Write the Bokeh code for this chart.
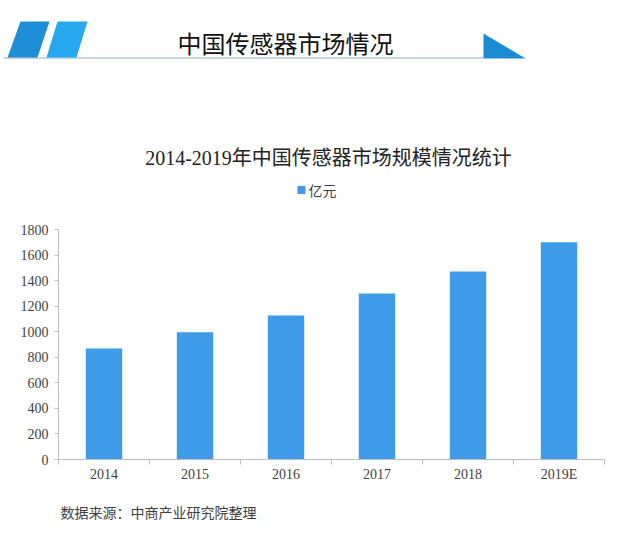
from bokeh.plotting import figure
from bokeh.layouts import column
from bokeh.models import Range1d, LinearAxis, FixedTicker, ColumnDataSource
from bokeh.core.properties import value
from bokeh.embed import file_html
from bokeh.resources import INLINE

# ---- data ----
years = ["2014", "2015", "2016", "2017", "2018", "2019E"]
market_size = [868, 995, 1126, 1300, 1472, 1700]
y_ticks = [0, 200, 400, 600, 800, 1000, 1200, 1400, 1600, 1800]
series_name = "亿元"
header_title = "中国传感器市场情况"
chart_title = "2014-2019年中国传感器市场规模情况统计"
source_note = "数据来源：中商产业研究院整理"

# ---- layout constants ----
W = 630
TOP_H, MAIN_H, BOT_H = 200, 290, 47
FL, FR, FT, FB = 58, 604, 229, 459          # plot frame in page pixels
BAR = "#3d9be9"
AXIS = "#bfbfbf"
TXT = "#3f3f3f"
SERIF = "Liberation Serif"
MIX = "'Liberation Serif', 'Noto Sans CJK SC'"
SANS_CJK = "Noto Sans CJK SC"


def pixel_fig(h):
    f = figure(width=W, height=h, x_range=Range1d(0, W), y_range=Range1d(h, 0),
               output_backend="svg", toolbar_location=None,
               x_axis_location=None, y_axis_location=None, title=None,
               min_border=0, min_border_left=0, min_border_right=0,
               min_border_top=0, min_border_bottom=0, frame_align=False)
    f.outline_line_color = None
    f.xgrid.visible = False
    f.ygrid.visible = False
    f.background_fill_color = "white"
    f.border_fill_color = "white"
    return f


# ---------- header / titles ----------
top = pixel_fig(TOP_H)
top.patches(xs=[[3, 483, 483, 3], [20, 49, 37, 7], [57, 87, 76, 46], [483, 483, 525]],
            ys=[[56.8, 56.8, 58.2, 58.2], [21, 21, 57, 57], [21, 21, 57, 57], [33, 58, 58]],
            fill_color=["#b5c8da", "#1e8fd6", "#25a8ee", "#1b8bd2"], line_color=None)
top.text(x=[285], y=[42], text=[header_title], text_font=value(SANS_CJK),
         text_font_size="24px", text_color="#111111", text_align="center", text_baseline="middle")
top.text(x=[328], y=[157], text=[chart_title], text_font=value(MIX),
         text_font_size="20px", text_color="#222222", text_align="center", text_baseline="middle")
# legend
top.rect(x=[301], y=[189.5], width=8, height=8, fill_color=BAR, line_color=None)
top.text(x=[308], y=[189.5], text=[series_name], text_font=value(SANS_CJK),
         text_font_size="14px", text_color=TXT, text_align="left", text_baseline="middle")

# ---------- main chart ----------
n = len(years)
centers = [i + 0.5 for i in range(n)]
bounds = list(range(n + 1))

p = figure(width=W, height=MAIN_H,
           x_range=Range1d(0, n),
           y_range=Range1d(y_ticks[0], y_ticks[-1]),
           output_backend="svg", toolbar_location=None,
           x_axis_location=None, y_axis_location=None, title=None,
           min_border_left=FL, min_border_right=W - FR,
           min_border_top=FT - TOP_H, min_border_bottom=TOP_H + MAIN_H - FB,
           frame_align=False)
p.outline_line_color = None
p.xgrid.visible = False
p.ygrid.visible = False
p.background_fill_color = "white"
p.border_fill_color = "white"

src = ColumnDataSource(dict(x=centers, value=market_size, year=years))
bars = p.vbar(x="x", top="value", width=0.4, source=src,
              fill_color=BAR, line_color=None)

yax = LinearAxis(ticker=FixedTicker(ticks=y_ticks))
yax.axis_line_color = AXIS
yax.major_tick_line_color = AXIS
yax.major_tick_out = 4
yax.major_tick_in = 0
yax.minor_tick_line_color = None
yax.major_label_text_font = SERIF
yax.major_label_text_font_size = "14px"
yax.major_label_text_color = TXT
yax.major_label_standoff = 6
p.add_layout(yax, "left")

# boundary ticks (Excel style), no labels
tax = LinearAxis(ticker=FixedTicker(ticks=bounds, minor_ticks=[]),
                 major_label_overrides={b: "" for b in bounds})
tax.axis_line_color = AXIS
tax.major_tick_line_color = AXIS
tax.major_tick_out = 5
tax.major_tick_in = 0
tax.minor_tick_line_color = None
tax.major_label_text_font_size = "1px"
tax.major_label_standoff = 0
p.add_layout(tax, "below")

# category labels
cax = LinearAxis(ticker=FixedTicker(ticks=centers, minor_ticks=[]),
                 major_label_overrides={c: y for c, y in zip(centers, years)})
cax.axis_line_color = None
cax.major_tick_line_color = None
cax.minor_tick_line_color = None
cax.major_tick_out = 0
cax.major_tick_in = 0
cax.major_label_text_font = SERIF
cax.major_label_text_font_size = "14px"
cax.major_label_text_color = TXT
cax.major_label_standoff = 2
p.add_layout(cax, "below")

# ---------- footer ----------
bot = pixel_fig(BOT_H)
bot.text(x=[60], y=[511 - TOP_H - MAIN_H], text=[source_note], text_font=value(SANS_CJK),
         text_font_size="14px", text_color="#404040", text_align="left", text_baseline="middle")

layout = column(top, p, bot, spacing=0)
open("out.html", "w").write(file_html(layout, INLINE))
